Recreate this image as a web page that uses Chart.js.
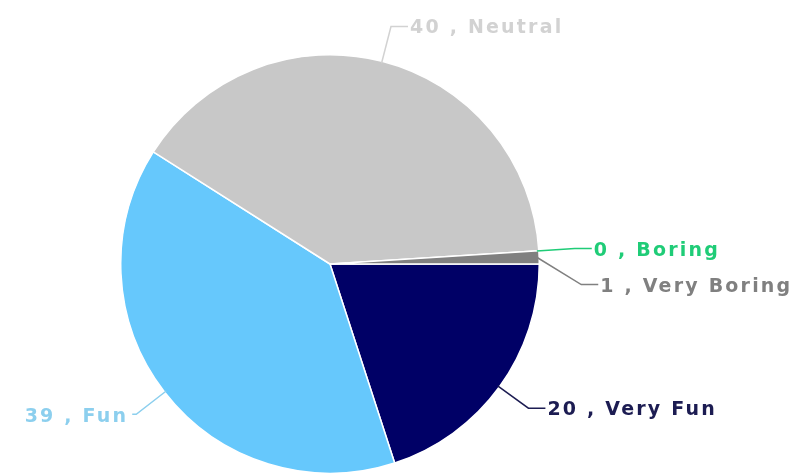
<!DOCTYPE html>
<html>
<head>
<meta charset="utf-8">
<script src="https://cdn.jsdelivr.net/npm/chart.js@4"></script>
<style>
  html, body { margin: 0; padding: 0; background: #ffffff; }
  #wrap { width: 796px; height: 474px; position: relative; }
</style>
</head>
<body>
<div id="wrap"><canvas id="c" width="796" height="474"></canvas></div>
<script>
const categories = ['Very Fun', 'Fun', 'Neutral', 'Boring', 'Very Boring'];
const responses = [20, 39, 40, 0, 1];
const sliceColors = ['#000066', '#66c8fc', '#c8c8c8', '#00cc66', '#808080'];
const labelColors = ['#1c1c52', '#8ccfee', '#d2d2d2', '#1fcc77', '#808080'];

const outsideLabels = {
  id: 'outsideLabels',
  afterDatasetsDraw(chart) {
    const ctx = chart.ctx;
    const meta = chart.getDatasetMeta(0);
    const items = meta.data.map((arc, i) => {
      const p = arc.getProps(['x', 'y', 'startAngle', 'endAngle', 'outerRadius'], true);
      const mid = (p.startAngle + p.endAngle) / 2;
      const r = p.outerRadius;
      const c = Math.cos(mid), s = Math.sin(mid);
      return {
        i, cx: p.x, cy: p.y, r, c, s,
        sx: p.x + (r - 2) * c, sy: p.y + (r - 2) * s,
        ex: p.x + (r + 36) * c, ey: p.y + (r + 36) * s,
        right: c >= 0
      };
    });
    // simple collision avoidance on each side
    [true, false].forEach(side => {
      const list = items.filter(it => it.right === side).sort((a, b) => a.ey - b.ey);
      for (let k = 1; k < list.length; k++) {
        if (list[k].ey < list[k - 1].ey + 36) {
          list[k].ey = list[k - 1].ey + 36;
          if (side) list[k].ex = Math.max(list[k].ex, list[k].cx + list[k].r + 42);
        }
      }
    });
    ctx.save();
    ctx.font = 'bold 19px "DejaVu Sans", Verdana, sans-serif';
    ctx.textBaseline = 'middle';
    try { ctx.letterSpacing = '2.2px'; } catch (e) {}
    ctx.lineWidth = 1.5;
    items.forEach(it => {
      const col = labelColors[it.i];
      const hx = it.right ? it.ex + 17 : it.ex - 4;
      ctx.strokeStyle = col;
      ctx.beginPath();
      ctx.moveTo(it.sx, it.sy);
      ctx.lineTo(it.ex, it.ey);
      ctx.lineTo(hx, it.ey);
      ctx.stroke();
      ctx.fillStyle = col;
      const txt = responses[it.i] + ' , ' + categories[it.i];
      if (it.right) {
        ctx.textAlign = 'left';
        ctx.fillText(txt, hx + 2, it.ey + 2);
      } else {
        ctx.textAlign = 'right';
        ctx.fillText(txt, hx - 4, it.ey + 3);
      }
    });
    ctx.restore();
  }
};

new Chart(document.getElementById('c'), {
  type: 'pie',
  data: {
    labels: categories,
    datasets: [{
      data: responses,
      backgroundColor: sliceColors,
      borderColor: '#ffffff',
      borderWidth: 1.5
    }]
  },
  options: {
    responsive: false,
    animation: false,
    rotation: 90,
    layout: { padding: { left: 120, right: 256, top: 54, bottom: 0 } },
    plugins: {
      legend: { display: false },
      tooltip: { enabled: false }
    }
  },
  plugins: [outsideLabels]
});
</script>
</body>
</html>
